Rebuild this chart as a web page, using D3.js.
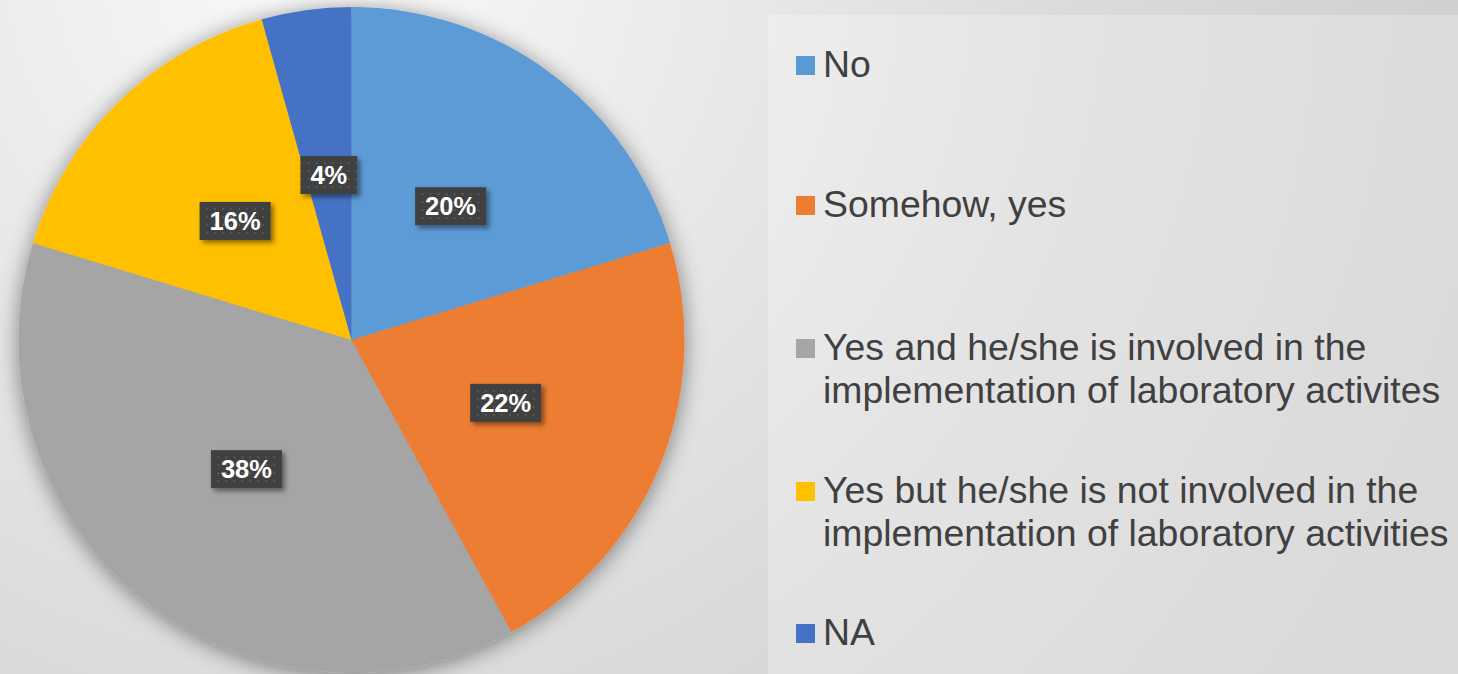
<!DOCTYPE html>
<html>
<head>
<meta charset="utf-8">
<script src="https://cdn.jsdelivr.net/npm/d3@7"></script>
<style>
  html, body { margin: 0; padding: 0; overflow: hidden; }
  svg { display: block; }
</style>
</head>
<body>
<svg id="chart" width="1458" height="674"></svg>
<script>
// ---- data ----
const categories = ["No", "Somehow, yes", "Yes and he/she is involved in the implementation of laboratory activites", "Yes but he/she is not involved in the implementation of laboratory activities", "NA"];
const legendLines = [
  ["No"],
  ["Somehow, yes"],
  ["Yes and he/she is involved in the", "implementation of laboratory activites"],
  ["Yes but he/she is not involved in the", "implementation of laboratory activities"],
  ["NA"]
];
const counts = [14, 15, 26, 11, 3];
const colors = ["#5B9BD5", "#ED7D31", "#A5A5A5", "#FFC000", "#4472C4"];

const W = 1458, H = 674;
const svg = d3.select("#chart");
const defs = svg.append("defs");

// background gradient
const bg = defs.append("radialGradient").attr("id", "bgGrad")
  .attr("gradientUnits", "userSpaceOnUse")
  .attr("cx", 320).attr("cy", -40).attr("r", 1250);
bg.append("stop").attr("offset", 0).attr("stop-color", "#fafafa");
bg.append("stop").attr("offset", 0.6).attr("stop-color", "#dbdbdb");
bg.append("stop").attr("offset", 1).attr("stop-color", "#cdcdcd");

// pie shadow
const sh = defs.append("filter").attr("id", "pieShadow")
  .attr("x", "-20%").attr("y", "-20%").attr("width", "140%").attr("height", "140%");
sh.append("feDropShadow").attr("dx", 0).attr("dy", 3).attr("stdDeviation", 11)
  .attr("flood-color", "#000").attr("flood-opacity", 0.45);

// label box shadow
const lsh = defs.append("filter").attr("id", "lblShadow")
  .attr("x", "-30%").attr("y", "-30%").attr("width", "160%").attr("height", "160%");
lsh.append("feDropShadow").attr("dx", 3).attr("dy", 3).attr("stdDeviation", 2.5)
  .attr("flood-color", "#000").attr("flood-opacity", 0.45);

// dotted pattern for label boxes
const pat = defs.append("pattern").attr("id", "dots")
  .attr("patternUnits", "userSpaceOnUse").attr("width", 8).attr("height", 8);
pat.append("rect").attr("width", 8).attr("height", 8).attr("fill", "#404040");
pat.append("rect").attr("x", 3).attr("y", 3).attr("width", 2).attr("height", 2).attr("fill", "#585858");

svg.append("rect").attr("width", W).attr("height", H).attr("fill", "url(#bgGrad)");

// legend panel
svg.append("rect").attr("x", 768).attr("y", 15).attr("width", W - 768).attr("height", H - 15)
  .attr("fill", "#ffffff").attr("fill-opacity", 0.25);

// ---- pie ----
const cx = 351.5, cy = 340, R = 333;
const total = d3.sum(counts);
const pie = d3.pie().sort(null).value(d => d)(counts);
const arc = d3.arc().innerRadius(0).outerRadius(R);
const labelArc = d3.arc().innerRadius(R * 0.5).outerRadius(R * 0.5);

const g = svg.append("g").attr("transform", `translate(${cx},${cy})`);
g.append("g").attr("filter", "url(#pieShadow)")
  .selectAll("path").data(pie).join("path")
  .attr("d", arc)
  .attr("fill", (d, i) => colors[i]);

const fmt = v => Math.round(v / total * 100) + "%";
const lbl = g.selectAll("g.lbl").data(pie).join("g").attr("class", "lbl")
  .attr("transform", d => `translate(${labelArc.centroid(d)})`);

lbl.each(function(d) {
  const sel = d3.select(this);
  const t = sel.append("text")
    .attr("text-anchor", "middle").attr("dy", "0.36em")
    .attr("font-family", "Liberation Sans, Arial, sans-serif")
    .attr("font-weight", "bold").attr("font-size", 25.5)
    .attr("fill", "#ffffff").text(fmt(d.data));
  const bb = t.node().getBBox();
  const pw = 10, bh = 38;
  sel.insert("rect", "text")
    .attr("x", -bb.width / 2 - pw).attr("y", -bh / 2)
    .attr("width", bb.width + 2 * pw).attr("height", bh)
    .attr("fill", "url(#dots)").attr("filter", "url(#lblShadow)");
});

// ---- legend ----
const baselines = [77, 217, 360, 503, 645];
const lineH = 42.5;
const leg = svg.append("g");
legendLines.forEach((lines, i) => {
  const b = baselines[i];
  leg.append("rect").attr("x", 796).attr("y", b - 21).attr("width", 19).attr("height", 19)
    .attr("fill", colors[i]);
  const t = leg.append("text")
    .attr("x", 823).attr("y", b)
    .attr("font-family", "Liberation Sans, Arial, sans-serif")
    .attr("font-size", 37.4).attr("fill", "#404040");
  lines.forEach((ln, j) => {
    t.append("tspan").attr("x", 823).attr("y", b + j * lineH).text(ln);
  });
});
</script>
</body>
</html>
